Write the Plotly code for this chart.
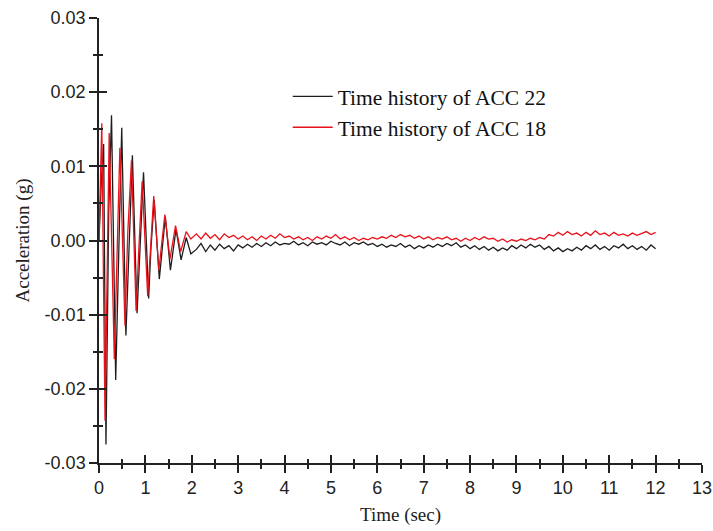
import numpy as np
import plotly.graph_objects as go

# ---- data (values in g) ----
# early decaying oscillation: extremes
acc22_t_early = [0.00, 0.05, 0.10, 0.15, 0.21, 0.27, 0.36, 0.42, 0.49, 0.58, 0.65, 0.72, 0.82,
                 0.88, 0.96, 1.07, 1.12, 1.19, 1.30, 1.43, 1.54, 1.66, 1.77, 1.88, 1.98]
acc22_a_early = [0.0, 0.008, 0.013, -0.0275, 0.004, 0.0169, -0.0188, -0.003, 0.0152, -0.0128,
                 -0.001, 0.0115, -0.0098, -0.002, 0.0092, -0.0078, -0.001, 0.0055, -0.0052,
                 0.0032, -0.0040, 0.0015, -0.0026, 0.0004, -0.0018]

acc18_t_early = [0.00, 0.06, 0.13, 0.18, 0.22, 0.33, 0.39, 0.45, 0.56, 0.62, 0.70, 0.80, 0.86,
                 0.93, 1.05, 1.18, 1.29, 1.42, 1.53, 1.65, 1.76, 1.88, 1.98]
acc18_a_early = [0.0, 0.0158, -0.0243, 0.002, 0.0145, -0.0160, -0.002, 0.0125, -0.0115, 0.001,
                 0.0108, -0.0095, -0.001, 0.0080, -0.0075, 0.0060, -0.0040, 0.0035, -0.0025,
                 0.0020, -0.0015, 0.0012, 0.0002]

# later part, sampled every 0.1 s from 2.1 to 12.0 (values in 1e-3 g)
t_late = [round(2.1 + 0.1 * i, 1) for i in range(100)]
acc22_late_milli = [
    -1.2, -0.4, -1.5, -0.6, -1.3, -0.5, -1.1, -0.7, -1.4, -0.6,
    -1.0, -0.5, -0.9, -0.4, -0.8, -0.3, -0.7, -0.2, -0.6, -0.4,
    -0.5, -0.1, -0.6, -0.3, -0.7, -0.2, -0.5, -0.3, -0.6, -0.1,
    -0.4, -0.6, -0.2, -0.7, -0.3, -0.5, -0.2, -0.6, -0.4, -0.8,
    -0.5, -0.9, -0.6, -0.8, -0.4, -0.9, -0.6, -1.1, -0.7, -1.0,
    -0.6, -0.9, -0.5, -0.8, -0.4, -0.7, -0.3, -0.9, -0.6, -1.1,
    -0.7, -1.2, -0.8, -1.3, -0.9, -1.4, -1.0, -1.3, -0.7, -1.1,
    -0.6, -1.0, -0.5, -0.9, -0.6, -1.2, -0.8, -1.4, -1.0, -1.5,
    -1.1, -1.4, -0.9, -1.3, -0.7, -1.1, -0.6, -1.2, -0.8, -1.3,
    -0.7, -1.0, -0.5, -1.1, -0.7, -1.2, -0.8, -1.3, -0.6, -1.1,
]
acc18_late_milli = [
    0.9, 0.2, 1.0, 0.3, 0.8, 0.1, 0.9, 0.4, 0.7, 0.2,
    0.6, 0.1, 0.5, 0.0, 0.6, 0.2, 0.7, 0.3, 0.9, 0.4,
    0.6, 0.2, 0.5, 0.1, 0.4, 0.0, 0.5, 0.2, 0.6, 0.3,
    0.8, 0.2, 0.5, 0.1, 0.4, 0.0, 0.3, 0.1, 0.4, 0.2,
    0.5, 0.3, 0.7, 0.4, 0.8, 0.5, 0.7, 0.3, 0.6, 0.2,
    0.5, 0.1, 0.4, 0.2, 0.5, 0.1, 0.3, -0.1, 0.3, 0.0,
    0.4, 0.1, 0.5, 0.2, 0.3, -0.1, 0.2, -0.2, 0.1, -0.1,
    0.2, 0.0, 0.3, 0.1, 0.4, 0.2, 0.8, 0.6, 1.1, 0.7,
    1.2, 0.8, 1.0, 0.6, 1.1, 0.7, 1.3, 0.8, 1.0, 0.6,
    1.1, 0.7, 0.9, 0.6, 1.0, 0.7, 0.9, 1.2, 0.8, 1.1,
]

series_names = ["Time history of ACC 22", "Time history of ACC 18"]
y_tick_vals = [-0.03, -0.02, -0.01, 0.0, 0.01, 0.02, 0.03]
y_tick_text = ["-0.03", "-0.02", "-0.01", "0.00", "0.01", "0.02", "0.03"]
x_tick_vals = list(range(0, 14))

acc22_t = acc22_t_early + t_late
acc22_a = acc22_a_early + [v / 1000 for v in acc22_late_milli]
acc18_t = acc18_t_early + t_late
acc18_a = acc18_a_early + [v / 1000 for v in acc18_late_milli]

fig = go.Figure()
fig.add_trace(go.Scatter(x=acc22_t, y=acc22_a, mode="lines", name=series_names[0],
                         line=dict(color="#1e1e1e", width=1.3)))
fig.add_trace(go.Scatter(x=acc18_t, y=acc18_a, mode="lines", name=series_names[1],
                         line=dict(color="#e8121b", width=1.3)))

tick_font = dict(family="Liberation Sans, Arial, sans-serif", size=18, color="#222")
title_font = dict(family="Liberation Serif, Times New Roman, serif", size=19, color="#222")

common = dict(showgrid=False, zeroline=False, showline=True, linecolor="#222", linewidth=1.5,
              tickcolor="#222", tickwidth=1.5, ticklen=8, automargin=False)
minor_out = dict(ticks="outside", ticklen=4, tickcolor="#222", tickwidth=1.5)
minor_in = dict(ticks="inside", ticklen=4, tickcolor="#222", tickwidth=1.5)

fig.update_layout(
    width=713, height=531,
    margin=dict(l=99, r=11, t=18, b=68),
    paper_bgcolor="white", plot_bgcolor="white",
    xaxis=dict(range=[0, 13], tickvals=x_tick_vals, ticks="outside", tickfont=tick_font,
               ticklabeloverflow="allow",
               title=dict(text="Time (sec)", font=title_font, standoff=10),
               minor=dict(dtick=0.5, **minor_out), **common),
    yaxis=dict(range=[-0.03, 0.03], tickvals=y_tick_vals, ticktext=y_tick_text, ticks="outside",
               tickfont=tick_font, ticklabeloverflow="allow",
               title=dict(text="Acceleration (g)", font=title_font, standoff=10),
               minor=dict(dtick=0.005, **minor_out), **common),
    xaxis2=dict(range=[0, 13], overlaying="x", anchor="y", tickvals=x_tick_vals, ticks="inside",
                showticklabels=False, minor=dict(dtick=0.5, **minor_in), **common),
    yaxis2=dict(range=[-0.03, 0.03], overlaying="y", anchor="x", tickvals=y_tick_vals, ticks="inside",
                showticklabels=False, minor=dict(dtick=0.005, **minor_in), **common),
    legend=dict(x=0.313, y=0.87, xanchor="left", yanchor="top", bgcolor="rgba(0,0,0,0)",
                font=dict(family="Liberation Serif, Times New Roman, serif", size=21.5, color="#111"),
                itemwidth=40, tracegroupgap=0),
    showlegend=True,
)
# invisible anchor trace so the overlaid axes (for crossing ticks) are drawn
fig.add_trace(go.Scatter(x=[None], y=[None], xaxis="x2", yaxis="y2", showlegend=False,
                         hoverinfo="skip"))

fig.write_html("out.html")
